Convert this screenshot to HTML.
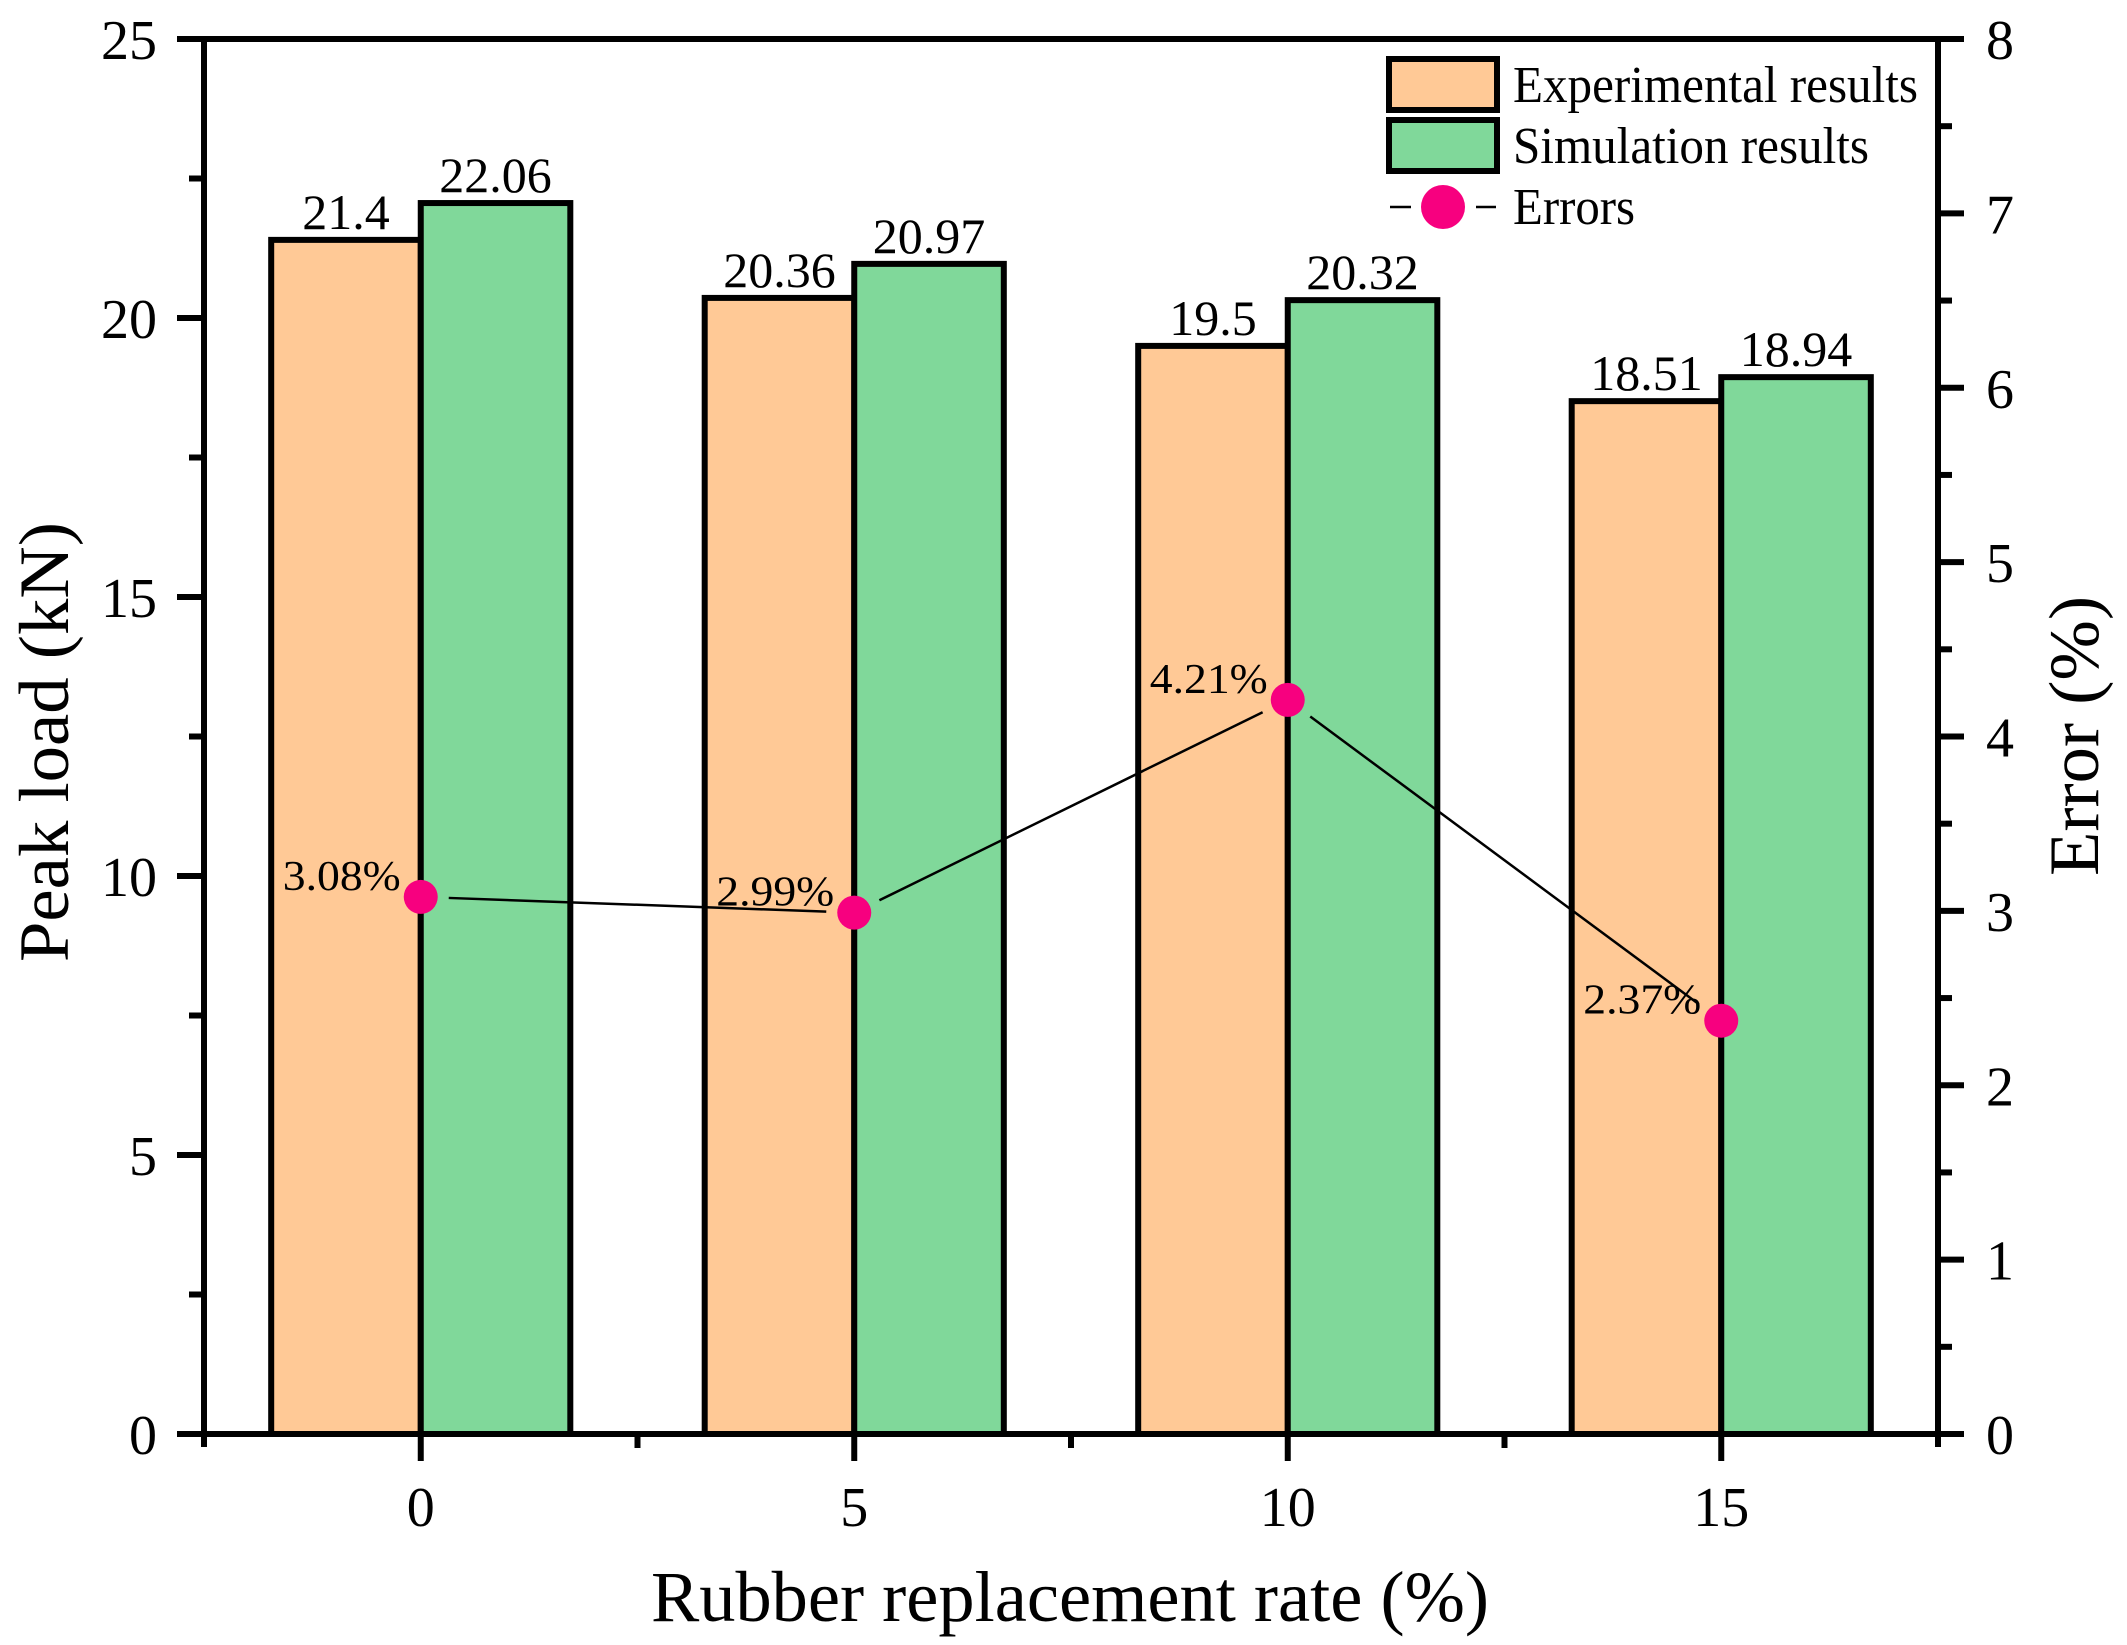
<!DOCTYPE html>
<html><head><meta charset="utf-8"><style>
html,body{margin:0;padding:0;background:#fff;}
svg{display:block;}
text{font-family:"Liberation Serif",serif;fill:#000;}
</style></head><body>
<svg id="chart" width="2127" height="1645" viewBox="0 0 2127 1645" xmlns="http://www.w3.org/2000/svg">
<g id="bars"></g>
<g id="errline"></g>
<g id="axes"></g>
<text transform="translate(68,742) rotate(-90)" text-anchor="middle" font-size="71" textLength="440" lengthAdjust="spacingAndGlyphs">Peak load (kN)</text>
<text transform="translate(2098,736) rotate(-90)" text-anchor="middle" font-size="71" textLength="280" lengthAdjust="spacingAndGlyphs">Error (%)</text>
<text x="1070" y="1621" text-anchor="middle" font-size="72" textLength="838" lengthAdjust="spacingAndGlyphs">Rubber replacement rate (%)</text>
<g>
<rect x="1389" y="59" width="108" height="51" fill="#FFC996" stroke="#000" stroke-width="6"/>
<text x="1513" y="102" font-size="52" textLength="405" lengthAdjust="spacingAndGlyphs">Experimental results</text>
<rect x="1389" y="120" width="108" height="51" fill="#80D89A" stroke="#000" stroke-width="6"/>
<text x="1513" y="163" font-size="52" textLength="356" lengthAdjust="spacingAndGlyphs">Simulation results</text>
<line x1="1390" y1="207" x2="1411" y2="207" stroke="#000" stroke-width="2.5"/>
<line x1="1476" y1="207" x2="1496" y2="207" stroke="#000" stroke-width="2.5"/>
<circle cx="1443" cy="207" r="22" fill="#F7007F"/>
<text x="1513" y="224" font-size="52" textLength="122" lengthAdjust="spacingAndGlyphs">Errors</text>
</g>
</svg>
<script>
const categories = [0, 5, 10, 15];
const experimental = [21.4, 20.36, 19.5, 18.51];
const simulation = [22.06, 20.97, 20.32, 18.94];
const errors = [3.08, 2.99, 4.21, 2.37];
const errorLabels = ["3.08%", "2.99%", "4.21%", "2.37%"];
const yTicks = [0, 5, 10, 15, 20, 25];
const y2Ticks = [0, 1, 2, 3, 4, 5, 6, 7, 8];
const xTicks = [0, 5, 10, 15];

const NS = "http://www.w3.org/2000/svg";
const L = 204, R = 1938, T = 39, B = 1434;
const xMin = -2.5, xMax = 17.5;
function xs(v){ return L + (v - xMin) / (xMax - xMin) * (R - L); }
function ys(v){ return B - v / 25 * (B - T); }
function y2s(v){ return B - v / 8 * (B - T); }
function mk(tag, attrs, parent, txt){
  const e = document.createElementNS(NS, tag);
  for (const k in attrs) e.setAttribute(k, attrs[k]);
  if (txt !== undefined) e.textContent = txt;
  parent.appendChild(e);
  return e;
}
const barsG = document.getElementById('bars');
const lineG = document.getElementById('errline');
const axG = document.getElementById('axes');
const bw = 1.725;
categories.forEach((c, i) => {
  const x0 = xs(c - bw), x1 = xs(c), x2 = xs(c + bw);
  let r = mk('rect', {x: x0, y: ys(experimental[i]), width: x1 - x0, height: B - ys(experimental[i]), fill: '#FFC996', stroke: '#000', 'stroke-width': 6}, barsG);
  
  
  r = mk('rect', {x: x1, y: ys(simulation[i]), width: x2 - x1, height: B - ys(simulation[i]), fill: '#80D89A', stroke: '#000', 'stroke-width': 6}, barsG);
  
  
  let t = mk('text', {x: (x0 + x1) / 2, y: ys(experimental[i]) - 11, 'text-anchor': 'middle', 'font-size': 50}, barsG, String(experimental[i]));
  
  
  t = mk('text', {x: (x1 + x2) / 2, y: ys(simulation[i]) - 11, 'text-anchor': 'middle', 'font-size': 50}, barsG, String(simulation[i]));
  
  
});
for (let i = 0; i < categories.length - 1; i++) {
  const ax = xs(categories[i]), ay = y2s(errors[i]), bx = xs(categories[i + 1]), by = y2s(errors[i + 1]);
  const d = Math.hypot(bx - ax, by - ay), g = 28;
  const ux = (bx - ax) / d, uy = (by - ay) / d;
  const ln = mk('line', {x1: ax + ux * g, y1: ay + uy * g, x2: bx - ux * g, y2: by - uy * g, stroke: '#000', 'stroke-width': 2.5}, lineG);
  
  
}
categories.forEach((c, i) => {
  const cx = xs(c), cy = y2s(errors[i]);
  const m = mk('circle', {cx: cx, cy: cy, r: 17, fill: '#F7007F'}, lineG);
  
  
  const t = mk('text', {x: cx - 20, y: cy - 7, 'text-anchor': 'end', 'font-size': 42, textLength: 118, lengthAdjust: 'spacingAndGlyphs'}, lineG, errorLabels[i]);
  
  
});
const sw = 6;
mk('line', {x1: L, y1: T - 3, x2: L, y2: B + 13, stroke: '#000', 'stroke-width': sw}, axG);
mk('line', {x1: R, y1: T - 3, x2: R, y2: B + 13, stroke: '#000', 'stroke-width': sw}, axG);
mk('line', {x1: L - 27, y1: T, x2: R + 3, y2: T, stroke: '#000', 'stroke-width': sw}, axG);
mk('line', {x1: L - 27, y1: B, x2: R + 26, y2: B, stroke: '#000', 'stroke-width': sw}, axG);
yTicks.forEach(v => {
  mk('line', {x1: L - 27, y1: ys(v), x2: L, y2: ys(v), stroke: '#000', 'stroke-width': sw}, axG);
  const t = mk('text', {x: 157, y: ys(v) + 20, 'text-anchor': 'end', 'font-size': 56}, axG, String(v));
  
  
  if (v < 25) mk('line', {x1: L - 15, y1: ys(v + 2.5), x2: L, y2: ys(v + 2.5), stroke: '#000', 'stroke-width': sw}, axG);
});
y2Ticks.forEach(v => {
  mk('line', {x1: R, y1: y2s(v), x2: R + 26, y2: y2s(v), stroke: '#000', 'stroke-width': sw}, axG);
  const t = mk('text', {x: 1986, y: y2s(v) + 20, 'text-anchor': 'start', 'font-size': 56}, axG, String(v));
  
  
  if (v < 8) mk('line', {x1: R, y1: y2s(v + 0.5), x2: R + 14, y2: y2s(v + 0.5), stroke: '#000', 'stroke-width': sw}, axG);
});
xTicks.forEach(v => {
  mk('line', {x1: xs(v), y1: B, x2: xs(v), y2: B + 27, stroke: '#000', 'stroke-width': sw}, axG);
  const t = mk('text', {x: xs(v), y: 1526, 'text-anchor': 'middle', 'font-size': 56}, axG, String(v));
  
  
});
[2.5, 7.5, 12.5].forEach(v => {
  mk('line', {x1: xs(v), y1: B, x2: xs(v), y2: B + 14, stroke: '#000', 'stroke-width': sw}, axG);
});
</script>
</body></html>
